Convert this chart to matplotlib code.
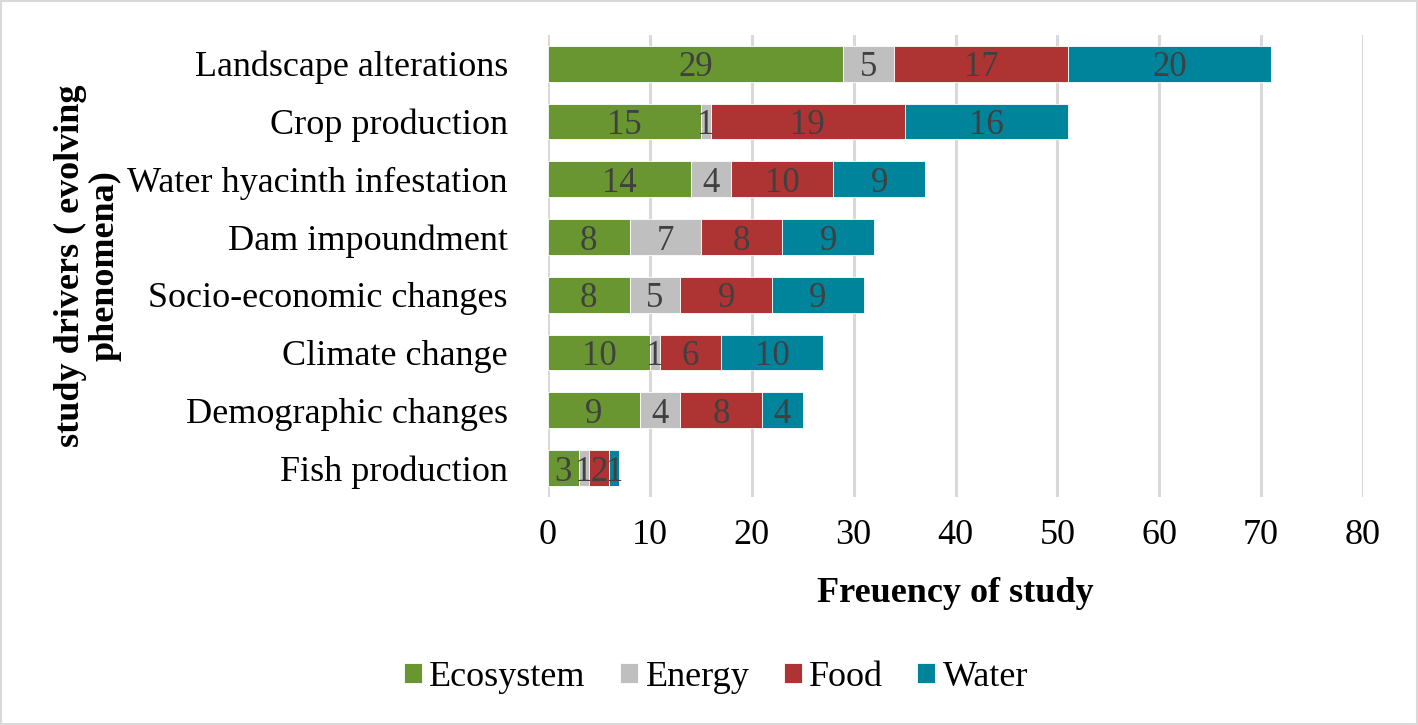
import matplotlib
matplotlib.use("Agg")
import matplotlib.pyplot as plt
from matplotlib.patches import Rectangle

plt.rcParams['font.family'] = ['Liberation Serif', 'DejaVu Serif']

categories = ["Landscape alterations", "Crop production", "Water hyacinth infestation",
              "Dam impoundment", "Socio-economic changes", "Climate change",
              "Demographic changes", "Fish production"]
ecosystem = [29, 15, 14, 8, 8, 10, 9, 3]
energy = [5, 1, 4, 7, 5, 1, 4, 1]
food = [17, 19, 10, 8, 9, 6, 8, 2]
water = [20, 16, 9, 9, 9, 10, 4, 1]
series_names = ["Ecosystem", "Energy", "Food", "Water"]
colors = ["#6a9632", "#bfbfbf", "#ae3434", "#00849c"]
xticks = [0, 10, 20, 30, 40, 50, 60, 70, 80]

fig = plt.figure(figsize=(14.18, 7.25), dpi=100)
ax = fig.add_axes([0.3865, 0.3145, 0.5747, 0.6375])

ypos = list(range(len(categories)))
left = [0] * len(categories)
for name, vals, c in zip(series_names, [ecosystem, energy, food, water], colors):
    bars = ax.barh(ypos, vals, left=left, height=0.62, color=c, label=name,
                   edgecolor='white', linewidth=0.6, zorder=3)
    for b, v, l in zip(bars, vals, left):
        ax.text(l + v / 2, b.get_y() + b.get_height() / 2, str(v), ha='center',
                va='center_baseline', fontsize=25, color='#404040', zorder=4)
    left = [a + b for a, b in zip(left, vals)]

ax.set_ylim(len(categories) - 0.5, -0.5)
ax.set_xlim(0, 80)
ax.set_xticks(xticks)
ax.set_yticks(ypos)
ax.set_yticklabels(categories)
ax.tick_params(axis='y', length=0, labelsize=26, pad=29)
ax.tick_params(axis='x', length=0, labelsize=26, pad=16)
ax.xaxis.grid(True, color='#d9d9d9', linewidth=2.2, zorder=0)
for s in ax.spines.values():
    s.set_visible(False)

fig.text(0.674, 1 - 602 / 725, "Freuency of study", fontsize=26, fontweight='bold',
         ha='center', va='baseline')
fig.text(0.062, 0.634, "study drivers ( evolving\nphenomena)", rotation=90,
         fontsize=26, fontweight='bold', ha='center', va='center',
         multialignment='center', linespacing=1.05)

handles, labels = ax.get_legend_handles_labels()
fig.legend(handles, labels, loc='center', bbox_to_anchor=(0.505, 0.066), ncol=4,
           frameon=False, fontsize=26, handlelength=0.5, handleheight=0.5,
           handletextpad=0.2, columnspacing=0.95)

fig.patches.append(Rectangle((0.001, 0.001), 0.998, 0.998, transform=fig.transFigure,
                             fill=False, edgecolor='#d9d9d9', linewidth=1.5))

fig.savefig("out.png", dpi=100)
